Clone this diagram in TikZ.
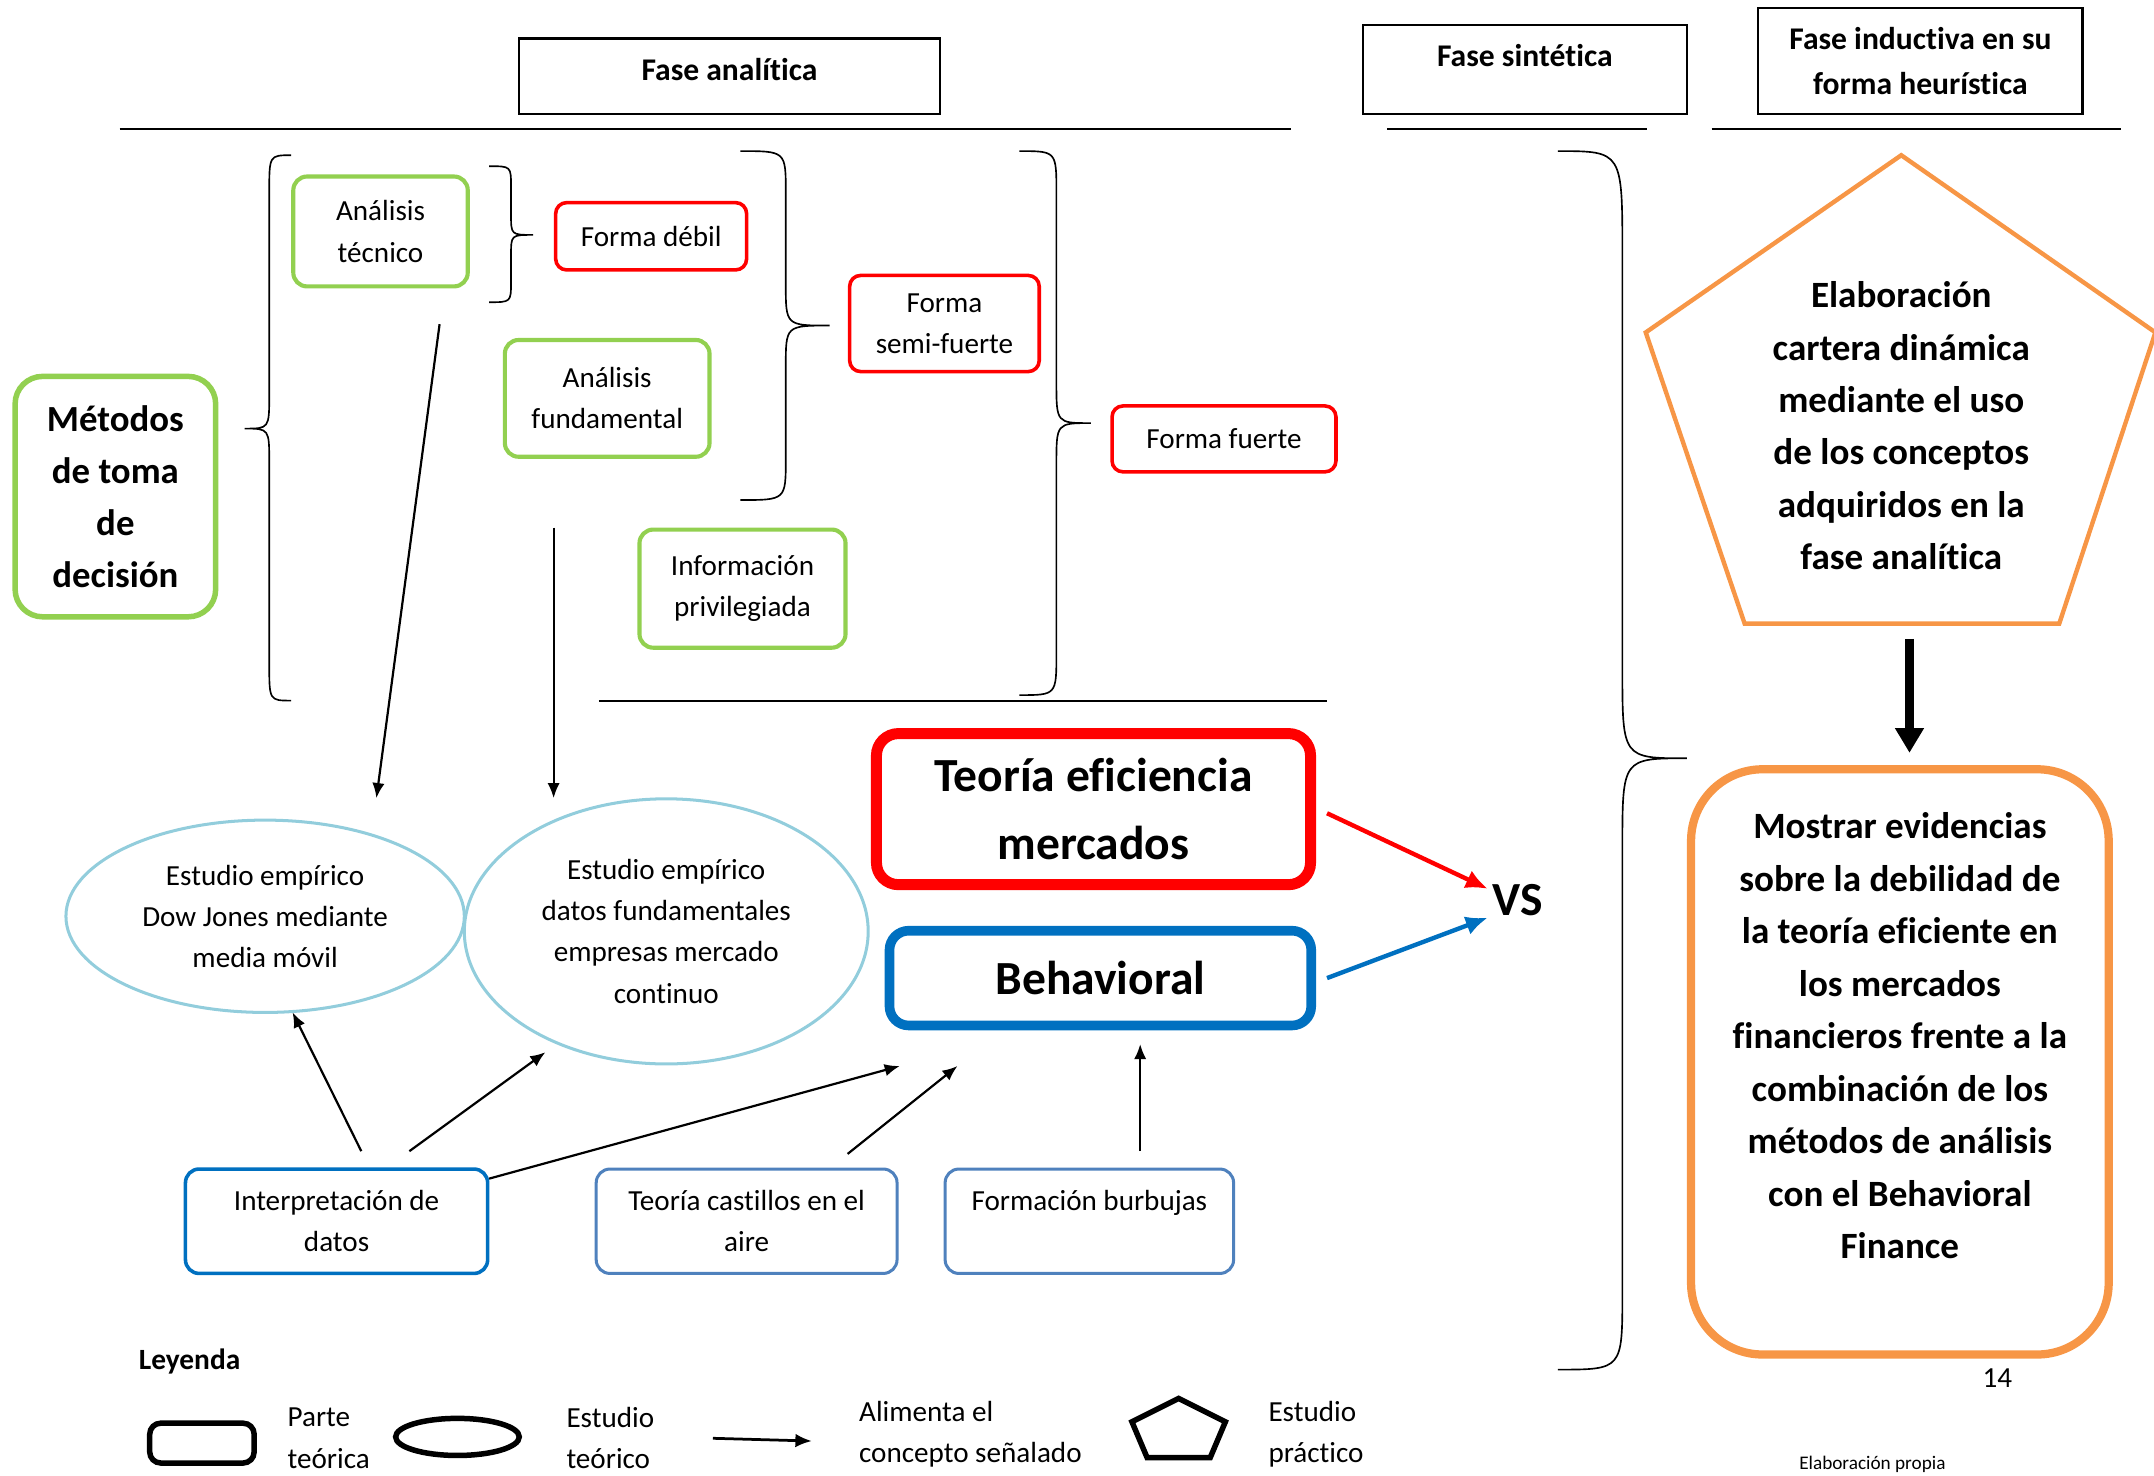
\documentclass[tikz,border=0pt]{standalone}
\usepackage{fontspec}
\setmainfont{Carlito}[Ligatures=NoCommon]
\usetikzlibrary{arrows.meta,shapes.geometric}
\definecolor{cgreen}{HTML}{92D050}
\definecolor{cred}{HTML}{FF0000}
\definecolor{clblue}{HTML}{92CDDC}
\definecolor{cblue}{HTML}{0070C0}
\definecolor{csteel}{HTML}{4F81BD}
\definecolor{corange}{HTML}{F79646}
\begin{document}
\begin{tikzpicture}[x=0.5pt,y=-0.5pt,
 body/.style={font=\fontsize{10.6}{15}\selectfont, align=center},
 hdr/.style={draw, line width=0.8pt, font=\bfseries\fontsize{11.5}{16.5}\selectfont, align=center, inner sep=0pt},
 gbox/.style={body, draw=cgreen, line width=1.5pt, rounded corners=5pt, inner sep=0pt},
 rbox/.style={body, draw=cred, line width=1.3pt, rounded corners=4pt, inner sep=0pt},
 ell/.style={body, draw=clblue, line width=1.1pt, ellipse, inner sep=0pt},
 bbox/.style={body, line width=1.1pt, rounded corners=5pt, inner sep=0pt},
 rulel/.style={line width=0.7pt},
 bracel/.style={line width=0.6pt},
 feed/.style={line width=0.8pt, -{Latex[length=5.5pt,width=4.5pt]}},
 legtxt/.style={body, align=left, anchor=west, inner sep=0pt},
]
\useasboundingbox (0,0) rectangle (1568,1074);

% headers
\node[hdr, minimum width=153pt, minimum height=27.5pt] (fa) at (531,55.5) {\raisebox{5pt}{Fase analítica}};
\node[hdr, minimum width=118pt, minimum height=32.5pt] (fs) at (1110,50.5) {\raisebox{10.5pt}{Fase sintética}};
\node[hdr, minimum width=118pt, minimum height=38.5pt] (fi) at (1398,44.5) {Fase inductiva en su\\forma heurística};
\draw[rulel] (87,94) -- (940,94);
\draw[rulel] (1010,94) -- (1199,94);
\draw[rulel] (1246,94) -- (1544,94);
\draw[rulel] (436,510) -- (966,510);

% left part
\node[gbox, line width=2pt, rounded corners=10pt, font=\bfseries\fontsize{13.4}{19}\selectfont, minimum width=73pt, minimum height=87.5pt] (met) at (84,361.5) {Métodos\\de toma\\de\\decisión};
\node[gbox, minimum width=63.5pt, minimum height=40pt] (at) at (277,168.5) {Análisis\\técnico};
\node[rbox, minimum width=69.5pt, minimum height=24.5pt] (fd) at (474,172) {Forma débil};
\node[rbox, minimum width=69pt, minimum height=35pt] (fsf) at (687.5,235.5) {Forma\\semi-fuerte};
\node[gbox, minimum width=74.5pt, minimum height=42.5pt] (af) at (442,290) {Análisis\\fundamental};
\node[rbox, minimum width=81.5pt, minimum height=24pt] (ff) at (891,319.5) {Forma fuerte};
\node[gbox, minimum width=75pt, minimum height=43pt] (ip) at (540.5,428.5) {Información\\privilegiada};

% braces
\draw[bracel] (212,113) .. controls (196,113) .. (196,140) -- (196,287) .. controls (196,312) .. (178,312) .. controls (196,312) .. (196,337) -- (196,483) .. controls (196,510) .. (212,510);
\draw[bracel] (356,121) .. controls (372,121) .. (372,136) -- (372,156) .. controls (372,171) .. (388,171) .. controls (372,171) .. (372,186) -- (372,205) .. controls (372,220) .. (356,220);
\draw[bracel] (539,110) .. controls (572,110) .. (572,140) -- (572,207) .. controls (572,237) .. (604,237) .. controls (572,237) .. (572,267) -- (572,334) .. controls (572,364) .. (539,364);
\draw[bracel] (742,110) .. controls (769,110) .. (769,140) -- (769,278) .. controls (769,308) .. (794,308) .. controls (769,308) .. (769,338) -- (769,476) .. controls (769,506) .. (742,506);
\draw[bracel] (1134,110) .. controls (1181,110) .. (1181,185) -- (1181,487) .. controls (1181,552) .. (1228,552) .. controls (1181,552) .. (1181,617) -- (1181,941) .. controls (1181,997) .. (1134,997);

% ellipses
\node[ell, minimum width=145pt, minimum height=70pt] (e1) at (193,667) {Estudio empírico\\Dow Jones mediante\\media móvil};
\node[ell, minimum width=147pt, minimum height=96.5pt] (e2) at (485,678) {Estudio empírico\\datos fundamentales\\empresas mercado\\continuo};

% theory boxes
\node[draw=cred, line width=4pt, rounded corners=8pt, font=\bfseries\fontsize{17.3}{24.5}\selectfont, align=center, inner sep=0pt, minimum width=158pt, minimum height=55pt] (tem) at (796,589) {Teoría eficiencia\\mercados};
\node[draw=cblue, line width=3.5pt, rounded corners=7pt, font=\bfseries\fontsize{17.3}{24.5}\selectfont, align=center, inner sep=0pt, minimum width=153.5pt, minimum height=34.5pt] (beh) at (801,712) {Behavioral};
\node[font=\bfseries\fontsize{17.3}{20}\selectfont, inner sep=0pt] (vs) at (1105,655) {VS};

% bottom boxes
\node[bbox, draw=cblue, line width=1.3pt, minimum width=110pt, minimum height=38pt] (idat) at (245,889) {Interpretación de\\datos};
\node[bbox, draw=csteel, minimum width=109.5pt, minimum height=38pt] (tca) at (543.5,889) {Teoría castillos en el\\aire};
\node[bbox, draw=csteel, minimum width=105pt, minimum height=38pt] (fb) at (793,889) {Formación burbujas\\\mbox{}};

% arrow ends
\coordinate (a1s) at (320,236); \coordinate (a1e) at (274,581);
\coordinate (a2s) at (403,384); \coordinate (a2e) at (403,581);
\coordinate (a3s) at (263,838); \coordinate (a3e) at (213,737);
\coordinate (a4s) at (298,838); \coordinate (a4e) at (397,766);
\coordinate (a5s) at (356,858); \coordinate (a5e) at (655,776);
\coordinate (a6s) at (617,840); \coordinate (a6e) at (697,776);
\coordinate (a7s) at (830,838); \coordinate (a7e) at (830,760);
\coordinate (r1s) at (966,592); \coordinate (r1e) at (1083,647);
\coordinate (b1s) at (966,712); \coordinate (b1e) at (1083,668);
\coordinate (tks) at (1390,465); \coordinate (tke) at (1390,548);

\draw[feed] (a1s) -- (a1e);
\draw[feed] (a2s) -- (a2e);
\draw[feed] (a3s) -- (a3e);
\draw[feed] (a4s) -- (a4e);
\draw[feed] (a5s) -- (a5e);
\draw[feed] (a6s) -- (a6e);
\draw[feed] (a7s) -- (a7e);
\draw[cred, line width=1.6pt, -{Latex[length=8pt,width=7pt]}] (r1s) -- (r1e);
\draw[cblue, line width=1.6pt, -{Latex[length=8pt,width=7pt]}] (b1s) -- (b1e);

% right part
\draw[corange, line width=1.6pt, line join=miter] (1384,113) -- (1569,242) -- (1499,454) -- (1270,454) -- (1198,242) -- cycle;
\node[font=\bfseries\fontsize{13.5}{19.1}\selectfont, align=center, inner sep=0pt] (pent) at (1384,310) {Elaboración\\cartera dinámica\\mediante el uso\\de los conceptos\\adquiridos en la\\fase analítica};
\draw[line width=3pt, -{Triangle[length=9pt,width=10pt]}] (tks) -- (tke);
\node[draw=corange, line width=3pt, rounded corners=26pt, font=\bfseries\fontsize{13.5}{19.1}\selectfont, align=center, inner sep=0pt, minimum width=152pt, minimum height=213pt] (ob) at (1383,773) {Mostrar evidencias\\sobre la debilidad de\\la teoría eficiente en\\los mercados\\financieros frente a la\\combinación de los\\métodos de análisis\\con el Behavioral\\Finance\\\mbox{}};
\node[font=\fontsize{10.6}{13}\selectfont, inner sep=0pt] (pg) at (1454,1003) {14};
\node[font=\fontsize{7}{8}\selectfont, inner sep=0pt] (elab) at (1363,1066) {Elaboración propia};

% legend
\node[font=\bfseries\fontsize{10.7}{13}\selectfont, inner sep=0pt] (ley) at (138,991) {Leyenda};
\node[draw, line width=2pt, rounded corners=4pt, minimum width=38pt, minimum height=14.5pt, inner sep=0pt] (lrect) at (147,1050.5) {};
\node[legtxt] (lt1) at (209,1047) {Parte\\teórica};
\node[draw, ellipse, line width=2pt, minimum width=45pt, minimum height=13.5pt, inner sep=0pt] (lell) at (333,1046) {};
\node[legtxt] (lt2) at (412,1047) {Estudio\\teórico};
\coordinate (las) at (519,1047); \coordinate (lae) at (591,1049);
\draw[line width=1pt, -{Latex[length=6pt,width=5pt]}] (las) -- (lae);
\node[legtxt] (lt3) at (625,1044) {Alimenta el\\concepto señalado};
\draw[line width=2pt, line join=miter] (858,1018) -- (892,1035) -- (881,1061) -- (835,1061) -- (824,1035) -- cycle;
\node[legtxt] (lt4) at (923,1044) {Estudio\\práctico};
\end{tikzpicture}
\end{document}
